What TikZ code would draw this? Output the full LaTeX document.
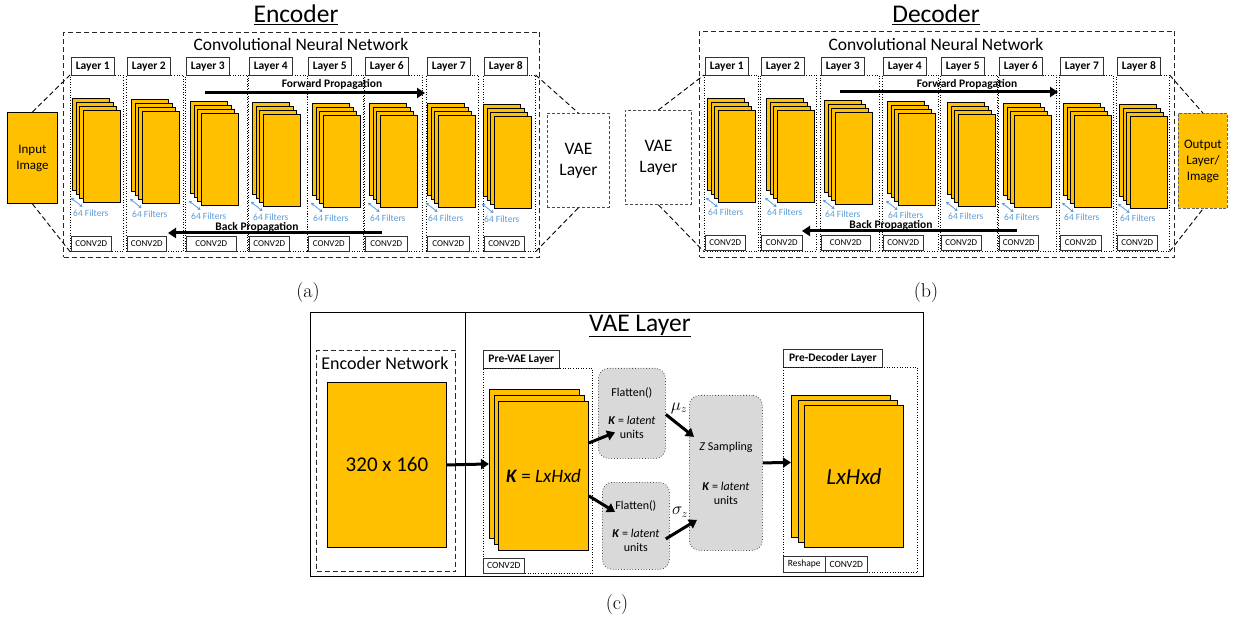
\documentclass[tikz,border=0pt]{standalone}
\usepackage{fontspec}
\newfontfamily\carlito{Carlito}
\usetikzlibrary{arrows.meta}
\definecolor{fmap}{HTML}{FFC000}
\definecolor{filt}{HTML}{5B9BD5}
\definecolor{latentgray}{HTML}{D9D9D9}

\tikzset{
  layercol/.style={draw, dotted, line width=0.6pt, anchor=north west, inner sep=0pt, minimum height=176pt},
  layertab/.style={draw=black!80, line width=0.7pt, anchor=north west, inner sep=0pt, minimum width=43pt, minimum height=18pt, font=\carlito\bfseries\fontsize{11.5}{13}\selectfont},
  convbox/.style={draw=black!80, line width=0.6pt, anchor=north west, inner sep=0pt, minimum height=15pt, font=\carlito\fontsize{9}{11}\selectfont},
  fmaprect/.style={draw, fill=fmap, line width=0.9pt, anchor=north west, inner sep=0pt, minimum width=37pt, minimum height=92pt},
  fmapbox/.style={draw, fill=fmap, line width=0.9pt, anchor=north west, inner sep=0pt, align=center, font=\carlito\fontsize{13}{16}\selectfont},
  filterarrow/.style={draw=filt, line width=0.8pt, {Stealth[length=3pt,width=3.5pt]}-{Stealth[length=3pt,width=3.5pt]}},
  filtertext/.style={text=filt, anchor=west, inner sep=0pt, font=\carlito\fontsize{9.5}{11}\selectfont},
  netbox/.style={draw=black!85, line width=1pt, dash pattern=on 5pt off 3pt, anchor=north west, inner sep=0pt},
  zoomline/.style={line width=0.9pt, dash pattern=on 5pt off 3pt},
  vaebox/.style={draw=black!70, line width=0.8pt, dash pattern=on 3pt off 2pt, anchor=north west, align=center, inner sep=0pt, font=\carlito\fontsize{17.5}{21}\selectfont},
  latentbox/.style={draw=black!70, fill=latentgray, dotted, line width=0.8pt, rounded corners=10pt, anchor=north west, inner sep=0pt, align=center, font=\carlito\fontsize{12}{14}\selectfont},
  propagation/.style={line width=3pt, -{Triangle[length=8pt,width=10pt]}},
  proplabel/.style={inner sep=0pt, font=\carlito\bfseries\fontsize{11.5}{13}\selectfont},
  paneltitle/.style={font=\carlito\fontsize{25.5}{30}\selectfont},
  cnnlabel/.style={font=\carlito\fontsize{17.5}{20}\selectfont},
  subcaption/.style={font=\fontsize{20}{24}\selectfont}
}

\begin{document}
\begin{tikzpicture}[x=1pt,y=-1pt]
\useasboundingbox (0,0) rectangle (1235,620);

% (a) encoder
\node[paneltitle] (enctitle) at (296,15) {\underline{Encoder}};
\node[netbox, minimum width=476pt, minimum height=225pt] (encnet) at (63,32) {};
\node[cnnlabel] (enccnn) at (301,44) {Convolutional Neural Network};
\foreach \i/\cl/\cw/\sx/\sy/\kw in {1/70/53/72/98/40,2/126/57/131/99/39,3/185/62/190/101/50,4/248/59/252/102/40,5/307/56/312/103/41,6/364/58/369/103/42,7/426/52/427/103/42,8/483/52/483/104/40}
{
\node[layercol, minimum width=\cw pt] (enc\i) at (\cl,75) {};
\node[layertab] (enctab\i) at (\cl+1,57) {Layer \i};
\foreach \j in {0,...,3}
\node[fmaprect] (enc\i-map\j) at (\sx+3.5*\j,\sy+4*\j) {};
\draw[filterarrow] ([xshift=-1pt,yshift=-7pt]enc\i-map0.south west) -- ([yshift=-4pt]enc\i-map3.south west);
\node[filtertext] (enc\i-filt) at ([xshift=1pt,yshift=-22pt]enc\i-map0.south west) {64 Filters};
\node[convbox, minimum width=\kw pt] (enc\i-conv) at (\cl+1,236) {CONV2D};
}
\coordinate (encfwdstart) at (205,93);
\coordinate (encfwdend) at (425,93);
\draw[propagation] (encfwdstart) -- (encfwdend);
\node[proplabel] (encfwd) at (332,84) {Forward Propagation};
\coordinate (encbackstart) at (382,233);
\coordinate (encbackend) at (168,233);
\draw[propagation] (encbackstart) -- (encbackend);
\node[proplabel, anchor=south] (encback) at (257,232.5) {Back Propagation};
\node[fmapbox, minimum width=50pt, minimum height=91pt] (input) at (7,112) {Input\\Image};
\node[vaebox, minimum width=62pt, minimum height=94pt] (encvae) at (547,113) {VAE\\Layer};
\draw[zoomline] (input.north) -- (enc1.north west);
\draw[zoomline] (input.south) -- (enc1.south west);
\draw[zoomline] (enc8.north east) -- (encvae.north);
\draw[zoomline] (enc8.south east) -- (encvae.south);
\node[subcaption] (capa) at (308,293) {(a)};

% (b) decoder
\node[paneltitle] (dectitle) at (936,15) {\underline{Decoder}};
\node[netbox, minimum width=475pt, minimum height=226pt] (decnet) at (699,31) {};
\node[cnnlabel] (deccnn) at (936,44) {Convolutional Neural Network};
\foreach \i/\cl/\cw/\sx/\sy/\kw in {1/704/54/707/98/40,2/760/56/766/98/41,3/820/59/824/100/49,4/882/56/887/101/40,5/940/57/947/102/40,6/998/58/1003/103/39,7/1059/54/1063/103/41,8/1116/53/1119/104/40}
{
\node[layercol, minimum width=\cw pt] (dec\i) at (\cl,75) {};
\node[layertab] (dectab\i) at (\cl+1,57) {Layer \i};
\foreach \j in {0,...,3}
\node[fmaprect] (dec\i-map\j) at (\sx+3.5*\j,\sy+4*\j) {};
\draw[filterarrow] ([xshift=-1pt,yshift=-7pt]dec\i-map0.south west) -- ([yshift=-4pt]dec\i-map3.south west);
\node[filtertext] (dec\i-filt) at ([xshift=1pt,yshift=-21.5pt]dec\i-map0.south west) {64 Filters};
\node[convbox, minimum width=\kw pt] (dec\i-conv) at (\cl+1,235) {CONV2D};
}
\coordinate (decfwdstart) at (840,92);
\coordinate (decfwdend) at (1058,92);
\draw[propagation] (decfwdstart) -- (decfwdend);
\node[proplabel] (decfwd) at (967,84) {Forward Propagation};
\coordinate (decbackstart) at (1017,231);
\coordinate (decbackend) at (802,231);
\draw[propagation] (decbackstart) -- (decbackend);
\node[proplabel, anchor=south] (decback) at (891,230.5) {Back Propagation};
\node[vaebox, minimum width=66pt, minimum height=94pt] (decvae) at (625,110) {VAE\\Layer};
\node[fmapbox, draw=black!60, dash pattern=on 3pt off 1.5pt, minimum width=49pt, minimum height=95pt] (output) at (1178,113) {Output\\Layer/\\Image};
\draw[zoomline] (decvae.north) -- (dec1.north west);
\draw[zoomline] (decvae.south) -- (dec1.south west);
\draw[zoomline] (dec8.north east) -- (output.north);
\draw[zoomline] (dec8.south east) -- (output.south);
\node[subcaption] (capb) at (926,293) {(b)};

% (c) VAE layer
\node[draw, line width=1pt, anchor=north west, inner sep=0pt, minimum width=613pt, minimum height=264pt] (vaepanel) at (310,312) {};
\coordinate (divtop) at (465,312);
\coordinate (divbot) at (465,576);
\draw[line width=1pt] (divtop) -- (divbot);
\node[netbox, minimum width=139pt, minimum height=221pt] (encnetwork) at (316,350) {};
\node[font=\carlito\fontsize{18}{20}\selectfont] (encnetlabel) at (385,363) {Encoder Network};
\node[fmapbox, minimum width=119pt, minimum height=165pt, font=\carlito\fontsize{21}{24}\selectfont] (encoutput) at (327,382) {320 x 160};
\node[paneltitle] (vaetitle) at (640,326) {\underline{VAE Layer}};

\node[layertab, minimum width=76pt, font=\carlito\bfseries\fontsize{11.5}{13}\selectfont] (prevaetab) at (483,350) {Pre-VAE Layer};
\node[layercol, minimum width=109pt, minimum height=205pt] (prevae) at (483,368) {};
\foreach \j in {0,1,2}
\node[fmaprect, minimum width=90pt, minimum height=149pt] (prevae-map\j) at (489+4.5*\j,389+6*\j) {};
\node[font=\carlito\fontsize{19}{22}\selectfont] (prevaetext) at (prevae-map2) {\textbf{\textit{K}} = \textit{LxHxd}};
\node[convbox, minimum width=41pt, font=\carlito\fontsize{9.5}{11}\selectfont] (prevaeconv) at (483,558) {CONV2D};

\node[latentbox, minimum width=67pt, minimum height=90pt] (flatmu) at (598,368) {Flatten()\\[14pt]\textbf{\textit{K}} = \textit{latent}\\units};
\node[latentbox, minimum width=67pt, minimum height=87pt] (flatsigma) at (602,482) {Flatten()\\[14pt]\textbf{\textit{K}} = \textit{latent}\\units};
\node[latentbox, minimum width=73pt, minimum height=155pt] (zsampling) at (689,395) {\textit{Z} Sampling\\[26pt]\textbf{\textit{K}} = \textit{latent}\\units};

\node[layertab, minimum width=99pt, font=\carlito\bfseries\fontsize{11.5}{13}\selectfont] (predectab) at (783,349) {Pre-Decoder Layer};
\node[layercol, minimum width=134pt, minimum height=205pt] (predec) at (783,367) {};
\foreach \j in {0,1,2}
\node[fmaprect, minimum width=99pt, minimum height=142pt] (predec-map\j) at (791+6.5*\j,395+5*\j) {};
\node[font=\carlito\fontsize{23}{26}\selectfont] (predectext) at (predec-map2) {\textit{LxHxd}};
\node[convbox, minimum width=42pt, minimum height=16pt, font=\carlito\fontsize{9.5}{11}\selectfont] (reshape) at (783,556) {Reshape};
\node[convbox, minimum width=42pt, minimum height=16pt, font=\carlito\fontsize{9.5}{11}\selectfont] (predecconv) at (825,556) {CONV2D};

\draw[propagation] (encoutput.east) -- (prevae-map0.west);
\draw[propagation] ([yshift=33pt]prevae-map2.east) -- ([xshift=17pt,yshift=-19pt]flatmu.west);
\draw[propagation] ([yshift=-20pt]prevae-map2.east) -- ([xshift=13pt,yshift=14pt]flatsigma.west);
\draw[propagation] ([yshift=-1pt]flatmu.east) -- ([xshift=5pt,yshift=36pt]zsampling.west);
\draw[propagation] ([xshift=-4pt,yshift=-13pt]flatsigma.east) -- ([xshift=8pt,yshift=-47pt]zsampling.west);
\draw[propagation] ([yshift=10pt]zsampling.east) -- ([yshift=4pt]predec-map0.west);
\node[font=\fontsize{16}{18}\selectfont] (mulabel) at (679,408) {$\mu_z$};
\node[font=\fontsize{16}{18}\selectfont] (sigmalabel) at (680,512) {$\sigma_z$};
\node[subcaption] (capc) at (617,605) {(c)};
\end{tikzpicture}
\end{document}
